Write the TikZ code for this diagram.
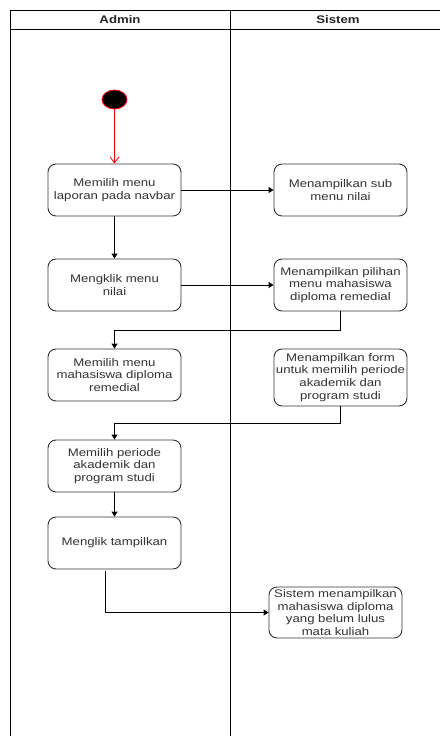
\documentclass[tikz,border=0pt]{standalone}
\usepackage{fontspec}
\setmainfont{Liberation Sans}[FakeStretch=1.2]
\usetikzlibrary{arrows.meta,positioning,calc,shapes.geometric}
\begin{document}
\begin{tikzpicture}[x=1pt,y=-1pt,
  lane/.style={line width=1pt,draw=black},
  act/.style={draw=black!80,line width=0.9pt,rounded corners=8pt,fill=white,
    minimum width=133pt,align=center,inner sep=0pt,text=black!80,
    font=\fontsize{11}{12.7}\selectfont},
  arr/.style={draw=black,line width=0.9pt,-{Triangle[length=5pt,width=6pt]}},
  hdr/.style={font=\bfseries\fontsize{11}{13}\selectfont,text=black!85}
]
\useasboundingbox (0,0) rectangle (439,736);
% swimlanes
\draw[lane] (10,736) -- (10,10) -- (440,10);
\draw[lane] (10,29) -- (440,29);
\draw[lane] (230,10) -- (230,736);
\node[hdr] (hA) at (120,19.5) {Admin};
\node[hdr] (hS) at (338,19.5) {Sistem};
% start
\node[ellipse,draw=red,fill=black,line width=0.8pt,minimum width=25pt,minimum height=19pt,inner sep=0pt] (st) at (114.5,99.5) {};
% activities
\node[act,minimum height=52pt] (b1) at (114.5,190) {Memilih menu\\laporan pada navbar};
\node[act,minimum height=52pt] (r1) at (340.5,190) {Menampilkan sub\\menu nilai};
\node[act,minimum height=52pt] (b2) at (114.5,285) {Mengklik menu\\nilai};
\node[act,minimum height=52pt] (r2) at (340.5,285) {Menampilkan pilihan\\menu mahasiswa\\diploma remedial};
\node[act,minimum height=52pt] (b3) at (114.5,375) {Memilih menu\\mahasiswa diploma\\remedial};
\node[act,minimum height=57pt] (r3) at (340.5,377.5) {Menampilkan form\\untuk memilih periode\\akademik dan\\program studi};
\node[act,minimum height=52pt] (b4) at (114.5,466) {Memilih periode\\akademik dan\\program studi};
\node[act,minimum height=52pt] (b5) at (114.5,543) {Menglik tampilkan};
\node[act,minimum height=51pt] (r5) at (335.5,612.5) {Sistem menampilkan\\mahasiswa diploma\\yang belum lulus\\mata kuliah};
% connectors
\draw[draw=red,line width=0.8pt,-{Straight Barb[length=6pt,width=9pt]}] (st) -- (b1);
\draw[arr] (b1) -- (r1);
\draw[arr] (b1) -- (b2);
\draw[arr] (b2) -- (r2);
\draw[arr] (r2.south) -- ++(0,19) -| (b3.north);
\draw[arr] (r3.south) -- ++(0,17) -| (b4.north);
\draw[arr] (b4) -- (b5);
\draw[arr] ([xshift=-9.5pt,yshift=-2pt]b5.south) |- (r5.west);
\end{tikzpicture}
\end{document}
